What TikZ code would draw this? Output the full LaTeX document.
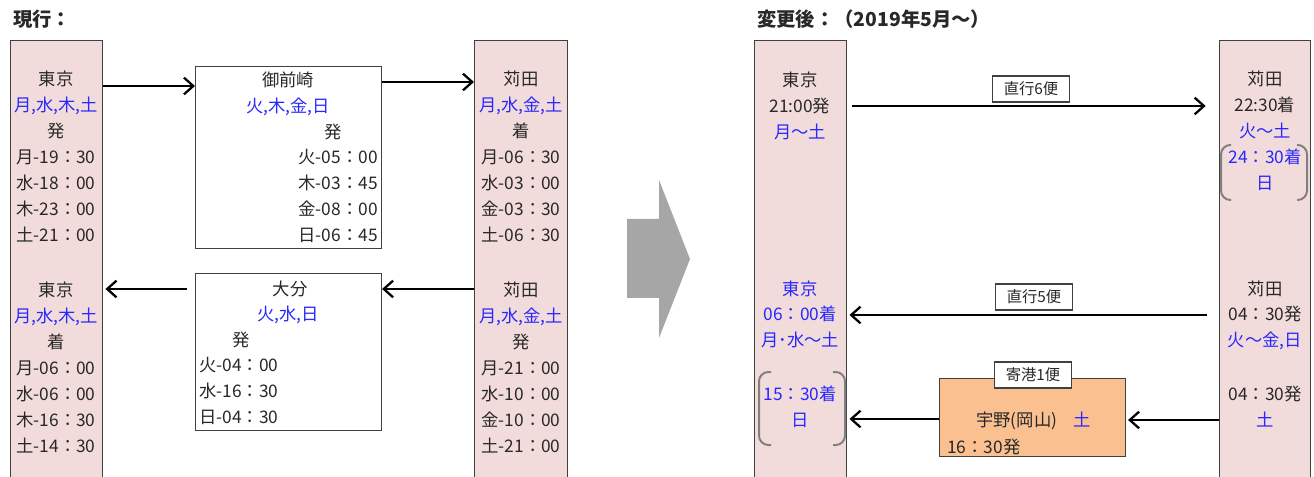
\documentclass[tikz,border=0pt]{standalone}
\usepackage{fontspec}
\setmainfont{Noto Sans CJK JP}
\usetikzlibrary{arrows.meta}
\definecolor{blu}{RGB}{40,40,255}
\definecolor{pinkfill}{HTML}{F2DCDB}
\definecolor{txt}{RGB}{40,40,40}
\definecolor{edge}{RGB}{64,64,64}
\definecolor{orangefill}{HTML}{FAC090}
\definecolor{bigarrow}{HTML}{A6A6A6}
\definecolor{brk}{RGB}{128,128,128}
\begin{document}
\begin{tikzpicture}[x=0.75pt,y=-0.75pt,
  every node/.style={font=\fontsize{13}{19.5}\selectfont, text=txt, inner sep=0pt},
  col/.style={draw=edge, line width=1.1pt, fill=pinkfill, anchor=north west, minimum height=340pt},
  box/.style={draw=edge, line width=0.8pt, fill=white, anchor=north west},
  lines/.style={align=center, anchor=base},
  link/.style={line width=2pt, -{Straight Barb[length=7pt,width=12.5pt,line width=1.7pt]}},
  tag/.style={draw=edge, line width=0.8pt, fill=white, minimum width=57.75pt, minimum height=19.5pt, font=\fontsize{11.5}{13}\selectfont},
  title/.style={font=\fontsize{14.5}{16}\selectfont\bfseries, anchor=base west},
  bracket/.style={draw=brk, line width=1.5pt, rounded corners=7pt}
]
\useasboundingbox (0,0) rectangle (1314,477);
% titles
\node[title] (t1) at (13,27) {現行：};
\node[title] (t2) at (757,27) {変更後：（2019年5月～）};
% helper coordinates
\coordinate (y82) at (0,82);
\coordinate (y86) at (0,86);
\coordinate (y106) at (0,106);
\coordinate (y289) at (0,289);
\coordinate (y315) at (0,315);
\coordinate (y419) at (0,419);
\coordinate (y420) at (0,420);
% ---------- current ----------
\node[col, minimum width=69pt] (tkL) at (10,40) {};
\node[col, minimum width=69.75pt] (kdL) at (474,40) {};
\node[box, minimum width=139.5pt, minimum height=136.5pt] (omae) at (195,66) {};
\node[box, minimum width=139.5pt, minimum height=117.75pt] (oita) at (195,273) {};

% multi-line nodes: anchor base = baseline of the last line
\node[lines] (tkLa) at (56,242) {東京\\\textcolor{blu}{月,水,木,土}\\発\\月-19：30\\水-18：00\\木-23：00\\土-21：00};
\node[lines] (tkLb) at (56,452) {東京\\\textcolor{blu}{月,水,木,土}\\着\\月-06：00\\水-06：00\\木-16：30\\土-14：30};
\node[lines] (kdLa) at (521,242) {苅田\\\textcolor{blu}{月,水,金,土}\\着\\月-06：30\\水-03：00\\金-03：30\\土-06：30};
\node[lines] (kdLb) at (521,452) {苅田\\\textcolor{blu}{月,水,金,土}\\発\\月-21：00\\水-10：00\\金-10：00\\土-21：00};

\node[anchor=base] (omae1) at (288,87) {御前崎};
\node[anchor=base, text=blu] (omae2) at (288,113) {火,木,金,日};
\node[anchor=base] (omae3) at (333,139) {発};
\node[align=right, anchor=base east] (omae4) at (378,242) {火-05：00\\木-03：45\\金-08：00\\日-06：45};

\node[anchor=base] (oita1) at (290,296) {大分};
\node[anchor=base, text=blu] (oita2) at (288,321) {火,水,日};
\node[anchor=base] (oita3) at (241,347) {発};
\node[align=left, anchor=base west] (oita4) at (199,423) {火-04：00\\水-16：30\\日-04：30};

\coordinate (a4s) at (187,289);
\draw[link] (tkL.east |- y86) -- (omae.west |- y86);
\draw[link] (omae.east |- y82) -- (kdL.west |- y82);
\draw[link] (kdL.west |- y289) -- (oita.east |- y289);
\draw[link, shorten >=1.5pt] (a4s) -- (tkL.east |- y289);

% big arrow
\fill[bigarrow] (627,219) -- (659,219) -- (659,180) -- (690,259) -- (659,338) -- (659,298) -- (627,298) -- cycle;

% ---------- new ----------
\node[col, minimum width=69pt] (tkR) at (754,40) {};
\node[col, minimum width=68.25pt] (kdR) at (1219,40) {};

\node[lines] (tkRa) at (800,139) {東京\\21:00発\\\textcolor{blu}{月～土}};
\node[lines, text=blu] (tkRb) at (800,347) {東京\\06：00着\\月･水～土};
\node[lines, text=blu] (tkRc) at (800,426) {15：30着\\日};
\node[lines] (kdRa) at (1265,190) {苅田\\22:30着\\\textcolor{blu}{火～土}\\\textcolor{blu}{24：30着}\\\textcolor{blu}{日}};
\node[lines] (kdRb) at (1265,347) {苅田\\04：30発\\\textcolor{blu}{火～金,日}};
\node[lines] (kdRc) at (1265,426) {04：30発\\\textcolor{blu}{土}};

\draw[bracket] (771,372) -- (759,372) -- (759,445) -- (771,445);
\draw[bracket] (833,372) -- (845,372) -- (845,445) -- (833,445);
\draw[bracket] (1231,145) -- (1221,145) -- (1221,200) -- (1231,200);
\draw[bracket] (1297,145) -- (1307,145) -- (1307,200) -- (1297,200);

\node[box, fill=orangefill, minimum width=139.5pt, minimum height=58.5pt] (uno) at (939,378) {};
\node[anchor=base west] (uno1) at (976,426) {宇野(岡山)};
\node[anchor=base, text=blu] (uno2) at (1082,426) {土};
\node[anchor=base west] (uno3) at (947,453) {16：30発};

\draw[link, shorten <=3.5pt, shorten >=10pt] (tkR.east |- y106) -- (kdR.west |- y106);
\draw[link, shorten <=9pt, shorten >=1.5pt] (kdR.west |- y315) -- (tkR.east |- y315);
\draw[link, shorten >=1.5pt] (kdR.west |- y420) -- (uno.east |- y420);
\draw[link, shorten >=1.5pt] (uno.west |- y419) -- (tkR.east |- y419);

\node[tag] (tag6) at (1031,89) {直行6便};
\node[tag] (tag5) at (1034,297) {直行5便};
\node[tag] (tag1) at (1033,375) {寄港1便};
\end{tikzpicture}
\end{document}
